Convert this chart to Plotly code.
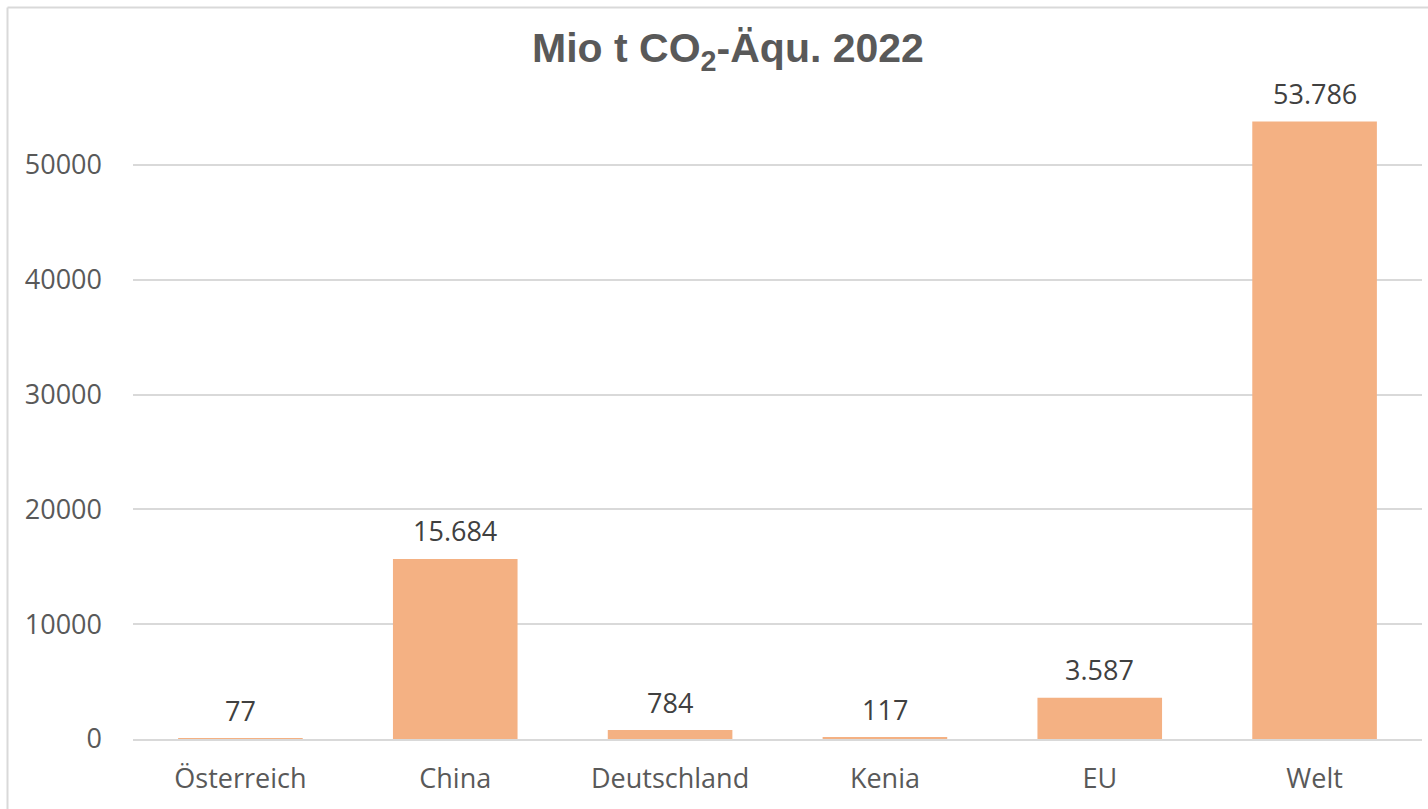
import plotly.graph_objects as go

categories = ["Österreich", "China", "Deutschland", "Kenia", "EU", "Welt"]
values = [77, 15684, 784, 117, 3587, 53786]
labels = ["77", "15.684", "784", "117", "3.587", "53.786"]
tick_vals = [0, 10000, 20000, 30000, 40000, 50000]
tick_text = ["0", "10000", "20000", "30000", "40000", "50000"]

fig = go.Figure(go.Bar(
    x=categories, y=values,
    marker=dict(color="#F4B183", line=dict(width=0)),
    cliponaxis=False, width=0.58, hoverinfo="x+y",
))

for c, v, s in zip(categories, values, labels):
    fig.add_annotation(
        x=c, y=v, xref="x", yref="y", text=s, showarrow=False,
        yanchor="middle", yshift=28,
        font=dict(family="Open Sans", size=27, color="#404040"),
    )

W, H = 1428, 809
l, r, t, b = 133, 6, 96, 70

def px_x(px):
    return (px - l) / (W - l - r)

def px_y(py):
    return (H - b - py) / (H - t - b)

fig.update_layout(
    width=W, height=H,
    margin=dict(l=l, r=r, t=t, b=b),
    paper_bgcolor="white", plot_bgcolor="white",
    showlegend=False,
    title=dict(
        text="<b>Mio t CO<sub>2</sub>-Äqu. 2022</b>",
        x=728 / W, xref="container", xanchor="center",
        y=1 - 48 / H, yref="container", yanchor="middle",
        font=dict(family="Liberation Sans, Arial", size=41, color="#595959"),
    ),
    xaxis=dict(
        showgrid=False, showline=True, linecolor="#D9D9D9", linewidth=1.5,
        ticks="", tickfont=dict(family="Open Sans", size=27, color="#595959"),
        ticklabelstandoff=15,
    ),
    yaxis=dict(
        range=[0, 56000], tickvals=tick_vals, ticktext=tick_text,
        showgrid=True, gridcolor="#D9D9D9", gridwidth=1.5,
        zeroline=False, showline=False, ticks="",
        tickfont=dict(family="Open Sans", size=27, color="#595959"),
        ticklabelstandoff=30,
    ),
    bargap=0.42,
    shapes=[
        dict(type="line", xref="paper", yref="paper",
             x0=px_x(7.5), x1=px_x(7.5), y0=px_y(7.5), y1=px_y(H + 5),
             line=dict(color="#D9D9D9", width=2)),
        dict(type="line", xref="paper", yref="paper",
             x0=px_x(7.5), x1=px_x(W + 5), y0=px_y(7.5), y1=px_y(7.5),
             line=dict(color="#D9D9D9", width=2)),
    ],
)

fig.write_html("out.html")
